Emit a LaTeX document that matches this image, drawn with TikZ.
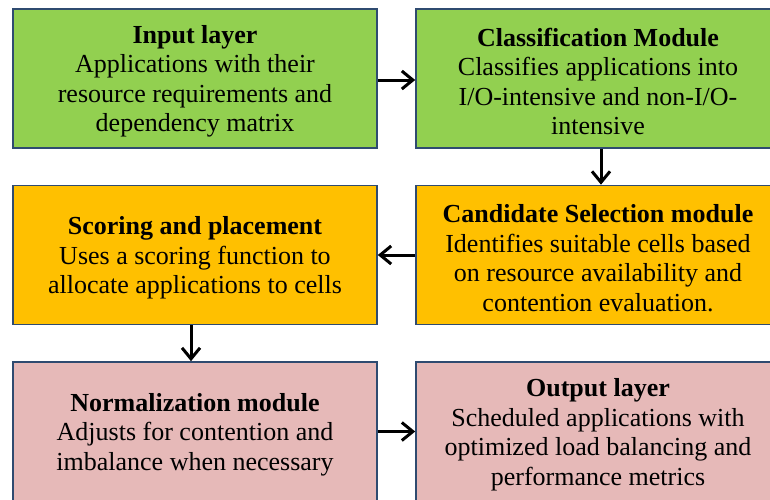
\documentclass[tikz,border=0pt]{standalone}
\usepackage{fontspec}
\setmainfont{Liberation Serif}
\usetikzlibrary{arrows.meta,positioning}
\definecolor{boxgreen}{HTML}{92D050}
\definecolor{boxyellow}{HTML}{FFC000}
\definecolor{boxpink}{HTML}{E6B9B8}
\definecolor{boxedge}{HTML}{2F4B70}

\begin{document}
\begin{tikzpicture}[x=1pt, y=-1pt,
    block/.style={draw=boxedge, line width=1.6pt, minimum width=364pt, minimum height=139pt},
    blocktext/.style={align=center, font=\fontsize{26}{29.5}\selectfont},
    flow/.style={-{Straight Barb[length=11pt, width=18pt]}, line width=3pt}]
  \useasboundingbox (0,0) rectangle (770,499);
  \clip (0,0) rectangle (770,499);

  % boxes
  \node[block, fill=boxgreen] (input) at (195,78.5) {};
  \node[block, fill=boxgreen] (classify) at (598,78.5) {};
  \node[block, fill=boxyellow] (scoring) at (195,255) {};
  \node[block, fill=boxyellow] (candidate) at (598,255) {};
  \node[block, fill=boxpink] (normalize) at (195,431.5) {};
  \node[block, fill=boxpink] (output) at (598,431.5) {};

  % texts
  \node[blocktext] (inputtext) at ([yshift=-3pt]input) {\textbf{Input layer}\\Applications with their\\resource requirements and\\dependency matrix};
  \node[blocktext] (classifytext) at ([yshift=-3pt]classify) {\textbf{Classification Module}\\Classifies applications into\\I/O-intensive and non-I/O-\\intensive};
  \node[blocktext] (scoringtext) at ([yshift=-3pt]scoring) {\textbf{Scoring and placement}\\Uses a scoring function to\\allocate applications to cells};
  \node[blocktext] (candidatetext) at ([yshift=-3pt]candidate) {\textbf{Candidate Selection module}\\Identifies suitable cells based\\on resource availability and\\contention evaluation.};
  \node[blocktext] (normalizetext) at ([yshift=-3pt]normalize) {\textbf{Normalization module}\\Adjusts for contention and\\imbalance when necessary};
  \node[blocktext] (outputtext) at ([yshift=-3pt]output) {\textbf{Output layer}\\Scheduled applications with\\optimized load balancing and\\performance metrics};

  \draw[flow] ([yshift=-1.5pt]input.east) -- ([yshift=-1.5pt]classify.west);
  \draw[flow] ([xshift=3pt]classify.south) -- ([xshift=3pt]candidate.north);
  \draw[flow] (candidate) -- (scoring);
  \draw[flow] ([xshift=-4pt]scoring.south) -- ([xshift=-4pt]normalize.north);
  \draw[flow] (normalize) -- (output);
\end{tikzpicture}
\end{document}
